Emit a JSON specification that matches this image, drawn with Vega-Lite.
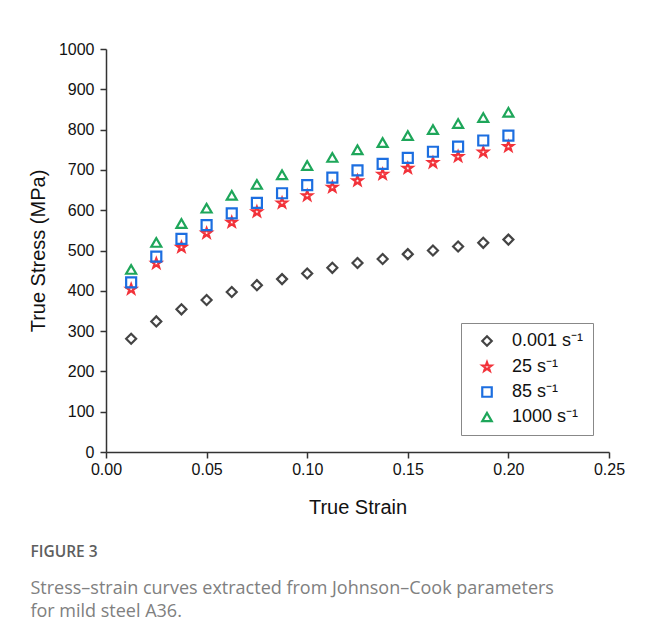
{
  "$schema": "https://vega.github.io/schema/vega-lite/v6.json",
  "autosize": {"type": "none"},
  "padding": {"left": 106, "top": 49, "right": 36, "bottom": 179},
  "width": 503,
  "height": 403,
  "background": "white",
  "title": {
    "text": "FIGURE 3",
    "subtitle": ["Stress–strain curves extracted from Johnson–Cook parameters", "for mild steel A36."],
    "orient": "bottom",
    "anchor": "start",
    "frame": "bounds",
    "font": "Open Sans",
    "fontSize": 15.5,
    "fontWeight": 600,
    "color": "#5e5e5e",
    "subtitleFont": "Open Sans",
    "subtitleFontSize": 18,
    "subtitleFontWeight": "normal",
    "subtitleColor": "#808080",
    "subtitleLineHeight": 23,
    "subtitlePadding": 19,
    "offset": 28,
    "dx": 2
  },
  "data": {
    "values": [
      {"series": "0.001 s⁻¹", "strain": 0.0125, "stress": 281},
      {"series": "0.001 s⁻¹", "strain": 0.025, "stress": 324},
      {"series": "0.001 s⁻¹", "strain": 0.0375, "stress": 354},
      {"series": "0.001 s⁻¹", "strain": 0.05, "stress": 377},
      {"series": "0.001 s⁻¹", "strain": 0.0625, "stress": 397},
      {"series": "0.001 s⁻¹", "strain": 0.075, "stress": 414},
      {"series": "0.001 s⁻¹", "strain": 0.0875, "stress": 429},
      {"series": "0.001 s⁻¹", "strain": 0.1, "stress": 443},
      {"series": "0.001 s⁻¹", "strain": 0.1125, "stress": 457},
      {"series": "0.001 s⁻¹", "strain": 0.125, "stress": 469},
      {"series": "0.001 s⁻¹", "strain": 0.1375, "stress": 479},
      {"series": "0.001 s⁻¹", "strain": 0.15, "stress": 491},
      {"series": "0.001 s⁻¹", "strain": 0.1625, "stress": 500},
      {"series": "0.001 s⁻¹", "strain": 0.175, "stress": 510},
      {"series": "0.001 s⁻¹", "strain": 0.1875, "stress": 519},
      {"series": "0.001 s⁻¹", "strain": 0.2, "stress": 527},
      {"series": "25 s⁻¹", "strain": 0.0125, "stress": 404},
      {"series": "25 s⁻¹", "strain": 0.025, "stress": 468},
      {"series": "25 s⁻¹", "strain": 0.0375, "stress": 508},
      {"series": "25 s⁻¹", "strain": 0.05, "stress": 543},
      {"series": "25 s⁻¹", "strain": 0.0625, "stress": 570},
      {"series": "25 s⁻¹", "strain": 0.075, "stress": 596},
      {"series": "25 s⁻¹", "strain": 0.0875, "stress": 618},
      {"series": "25 s⁻¹", "strain": 0.1, "stress": 636},
      {"series": "25 s⁻¹", "strain": 0.1125, "stress": 657},
      {"series": "25 s⁻¹", "strain": 0.125, "stress": 673},
      {"series": "25 s⁻¹", "strain": 0.1375, "stress": 689},
      {"series": "25 s⁻¹", "strain": 0.15, "stress": 704},
      {"series": "25 s⁻¹", "strain": 0.1625, "stress": 718},
      {"series": "25 s⁻¹", "strain": 0.175, "stress": 733},
      {"series": "25 s⁻¹", "strain": 0.1875, "stress": 744},
      {"series": "25 s⁻¹", "strain": 0.2, "stress": 758},
      {"series": "85 s⁻¹", "strain": 0.0125, "stress": 421},
      {"series": "85 s⁻¹", "strain": 0.025, "stress": 485},
      {"series": "85 s⁻¹", "strain": 0.0375, "stress": 529},
      {"series": "85 s⁻¹", "strain": 0.05, "stress": 563},
      {"series": "85 s⁻¹", "strain": 0.0625, "stress": 592},
      {"series": "85 s⁻¹", "strain": 0.075, "stress": 618},
      {"series": "85 s⁻¹", "strain": 0.0875, "stress": 642},
      {"series": "85 s⁻¹", "strain": 0.1, "stress": 662},
      {"series": "85 s⁻¹", "strain": 0.1125, "stress": 681},
      {"series": "85 s⁻¹", "strain": 0.125, "stress": 699},
      {"series": "85 s⁻¹", "strain": 0.1375, "stress": 715},
      {"series": "85 s⁻¹", "strain": 0.15, "stress": 730},
      {"series": "85 s⁻¹", "strain": 0.1625, "stress": 745},
      {"series": "85 s⁻¹", "strain": 0.175, "stress": 758},
      {"series": "85 s⁻¹", "strain": 0.1875, "stress": 773},
      {"series": "85 s⁻¹", "strain": 0.2, "stress": 785},
      {"series": "1000 s⁻¹", "strain": 0.0125, "stress": 453},
      {"series": "1000 s⁻¹", "strain": 0.025, "stress": 520},
      {"series": "1000 s⁻¹", "strain": 0.0375, "stress": 567},
      {"series": "1000 s⁻¹", "strain": 0.05, "stress": 605},
      {"series": "1000 s⁻¹", "strain": 0.0625, "stress": 637},
      {"series": "1000 s⁻¹", "strain": 0.075, "stress": 664},
      {"series": "1000 s⁻¹", "strain": 0.0875, "stress": 688},
      {"series": "1000 s⁻¹", "strain": 0.1, "stress": 711},
      {"series": "1000 s⁻¹", "strain": 0.1125, "stress": 731},
      {"series": "1000 s⁻¹", "strain": 0.125, "stress": 750},
      {"series": "1000 s⁻¹", "strain": 0.1375, "stress": 768},
      {"series": "1000 s⁻¹", "strain": 0.15, "stress": 785},
      {"series": "1000 s⁻¹", "strain": 0.1625, "stress": 800},
      {"series": "1000 s⁻¹", "strain": 0.175, "stress": 815},
      {"series": "1000 s⁻¹", "strain": 0.1875, "stress": 830},
      {"series": "1000 s⁻¹", "strain": 0.2, "stress": 843}
    ]
  },
  "mark": {"type": "point", "filled": false, "strokeWidth": 2.2, "size": 100, "opacity": 1},
  "encoding": {
    "x": {
      "field": "strain", "type": "quantitative",
      "scale": {"domain": [0, 0.25], "nice": false, "zero": false},
      "axis": {"values": [0, 0.05, 0.1, 0.15, 0.2, 0.25], "format": ".2f", "title": "True Strain", "titlePadding": 20, "labelFlush": false, "labelPadding": 3}
    },
    "y": {
      "field": "stress", "type": "quantitative",
      "scale": {"domain": [0, 1000], "nice": false},
      "axis": {"values": [0, 100, 200, 300, 400, 500, 600, 700, 800, 900, 1000], "format": "d", "title": "True Stress (MPa)", "titlePadding": 10, "labelFlush": false, "labelPadding": 6}
    },
    "color": {
      "field": "series", "type": "nominal",
      "scale": {
        "domain": ["0.001 s⁻¹", "25 s⁻¹", "85 s⁻¹", "1000 s⁻¹"],
        "range": ["#444444", "#f2323a", "#1c6ee0", "#1ea65a"]
      },
      "legend": {
        "title": null,
        "orient": "none",
        "legendX": 355,
        "legendY": 274,
        "strokeColor": "#888888",
        "padding": 9,
        "labelFont": "Liberation Sans",
        "labelFontSize": 18,
        "labelColor": "#111111",
        "symbolSize": 90,
        "symbolStrokeWidth": 2.2,
        "rowPadding": 6,
        "labelOffset": 16,
        "symbolOffset": 8
      }
    },
    "shape": {
      "field": "series", "type": "nominal",
      "scale": {
        "domain": ["0.001 s⁻¹", "25 s⁻¹", "85 s⁻¹", "1000 s⁻¹"],
        "range": ["diamond", "M0,-1L0.24,-0.33L0.95,-0.31L0.38,0.12L0.59,0.81L0,0.4L-0.59,0.81L-0.38,0.12L-0.95,-0.31L-0.24,-0.33Z", "square", "triangle-up"]
      },
      "legend": null
    }
  },
  "config": {
    "view": {"stroke": null},
    "axis": {
      "grid": false,
      "labelFont": "Liberation Sans",
      "labelFontSize": 16,
      "labelColor": "#111111",
      "titleFont": "Liberation Sans",
      "titleFontSize": 20,
      "titleFontWeight": "normal",
      "titleColor": "#111111",
      "domainColor": "#333333",
      "domainWidth": 1.5,
      "tickColor": "#333333",
      "tickWidth": 1.5,
      "tickSize": 6
    }
  }
}
